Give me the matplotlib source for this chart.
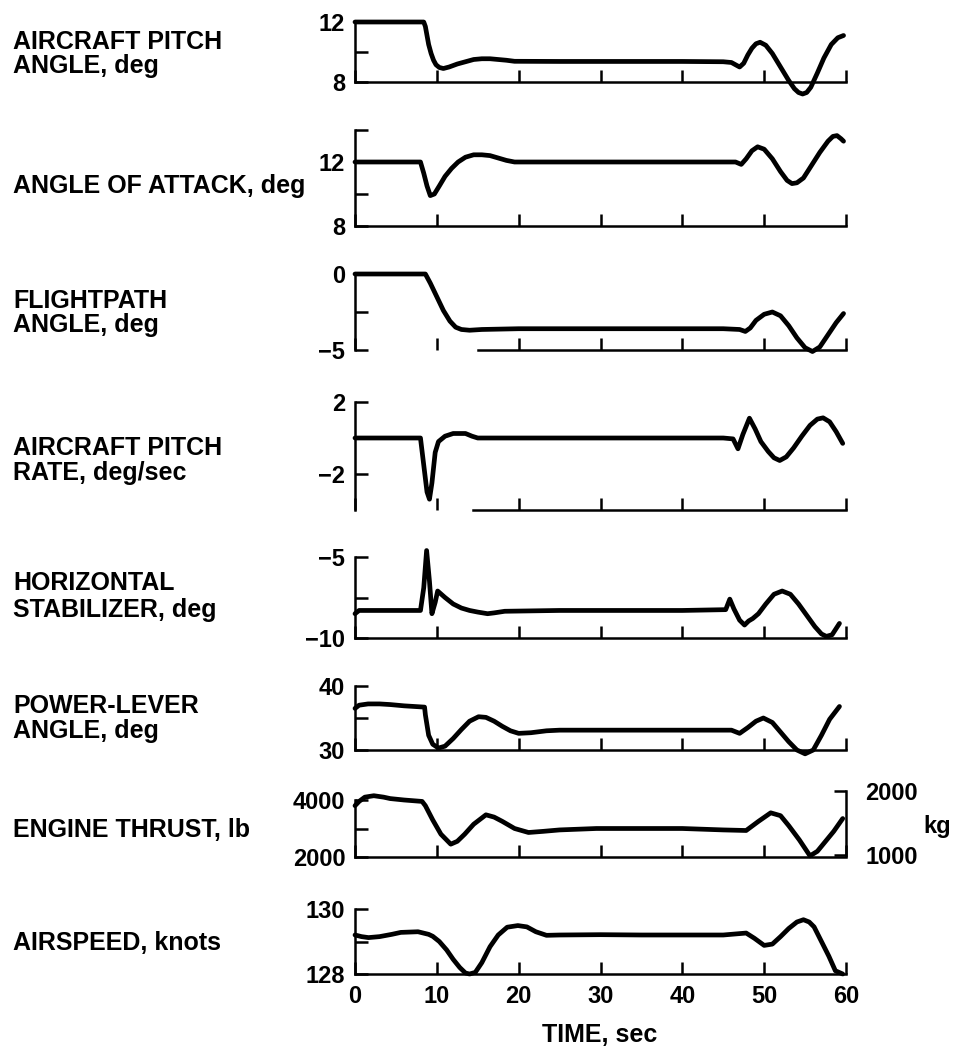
import matplotlib
matplotlib.use("Agg")
import matplotlib.pyplot as plt

plt.rcParams['font.family'] = ['Liberation Sans', 'DejaVu Sans']
plt.rcParams['font.weight'] = 'bold'

# ---------------- data ----------------
pitch_t = [0, 8.4, 8.6, 8.8, 9.0, 9.3, 9.6, 9.9, 10.3, 10.8, 11.5, 12.5, 13.5, 14.5, 15.5, 16.5, 17.5,
           18.5, 19.5, 25, 30, 35, 40, 45, 46, 46.5, 47, 47.5, 48, 48.5, 49.0, 49.5, 50.2, 51, 52, 53,
           53.7, 54.2, 54.7, 55.2, 55.7, 56.5, 57.3, 58.2, 59, 59.7]
pitch_v = [12.0, 12.0, 11.7, 11.1, 10.5, 9.9, 9.45, 9.15, 8.97, 8.9, 9.0, 9.2, 9.35, 9.5, 9.55, 9.55,
           9.5, 9.45, 9.38, 9.37, 9.37, 9.37, 9.37, 9.35, 9.3, 9.15, 9.0, 9.25, 9.8, 10.25, 10.55,
           10.65, 10.45, 9.9, 9.0, 8.1, 7.55, 7.3, 7.2, 7.3, 7.65, 8.6, 9.6, 10.5, 10.95, 11.1]

aoa_t = [0, 8.0, 8.4, 8.8, 9.2, 9.7, 10.3, 11, 11.8, 12.6, 13.5, 14.5, 15.5, 16.5, 17.5, 18.5, 19.5,
         25, 30, 35, 40, 45, 46.5, 47.2, 47.8, 48.5, 49.2, 50, 51, 52, 52.8, 53.4, 54.0, 54.8, 55.8,
         56.8, 57.8, 58.4, 58.9, 59.4, 59.7]
aoa_v = [12.0, 12.0, 11.3, 10.5, 9.9, 10.0, 10.5, 11.1, 11.6, 12.0, 12.3, 12.45, 12.45, 12.4, 12.25,
         12.1, 12.0, 12.0, 12.0, 12.0, 12.0, 12.0, 12.0, 11.85, 12.2, 12.7, 12.95, 12.8, 12.2, 11.4,
         10.85, 10.65, 10.7, 11.0, 11.8, 12.6, 13.3, 13.6, 13.65, 13.45, 13.3]

fpa_t = [0, 8.6, 9.2, 10.0, 10.8, 11.6, 12.3, 13.0, 14.0, 15.5, 20, 25, 30, 35, 40, 45, 47.0, 47.7,
         48.3, 49.0, 50.0, 51.0, 52.0, 53.0, 54.0, 55.0, 55.9, 56.8, 57.8, 58.8, 59.7]
fpa_v = [0, 0, -0.6, -1.5, -2.4, -3.1, -3.5, -3.65, -3.7, -3.65, -3.6, -3.6, -3.6, -3.6, -3.6, -3.6,
         -3.65, -3.78, -3.55, -3.05, -2.65, -2.5, -2.75, -3.4, -4.2, -4.85, -5.1, -4.8, -4.0, -3.2, -2.6]

rate_t = [0, 8.0, 8.4, 8.8, 9.1, 9.4, 9.8, 10.2, 11.0, 12.0, 13.5, 14.3, 15.0, 20, 25, 30, 35, 40, 45,
          46.2, 46.8, 47.4, 48.2, 48.9, 49.6, 50.5, 51.2, 51.9, 52.7, 53.6, 54.6, 55.6, 56.5, 57.2,
          58.0, 58.8, 59.6]
rate_v = [0, 0, -1.5, -3.0, -3.4, -2.5, -0.8, -0.2, 0.1, 0.25, 0.25, 0.1, 0.0, 0.0, 0.0, 0.0, 0.0,
          0.0, 0.0, -0.05, -0.6, 0.2, 1.1, 0.5, -0.2, -0.75, -1.1, -1.25, -1.05, -0.55, 0.1, 0.7,
          1.05, 1.12, 0.9, 0.35, -0.3]

stab_t = [0, 0.5, 1.0, 8.0, 8.4, 8.75, 9.1, 9.4, 9.8, 10.1, 11, 12, 13, 14, 15, 16.2, 17, 18.3, 25,
          30, 35, 40, 45.3, 45.8, 46.3, 47.0, 47.6, 48.1, 48.6, 49.3, 50.2, 51.2, 52.2, 53.2, 54.2,
          55.2, 56.2, 57.0, 57.6, 58.3, 59.2]
stab_v = [-8.5, -8.3, -8.3, -8.3, -6.9, -4.6, -6.5, -8.5, -7.8, -7.1, -7.5, -7.9, -8.15, -8.3, -8.4,
          -8.5, -8.45, -8.35, -8.3, -8.3, -8.3, -8.3, -8.25, -7.6, -8.2, -8.9, -9.2, -8.95, -8.8,
          -8.5, -7.9, -7.3, -7.1, -7.3, -7.9, -8.6, -9.3, -9.75, -9.9, -9.8, -9.1]

pla_t = [0, 0.5, 1.6, 3, 4.3, 6, 8.5, 8.6, 9.0, 9.5, 10.2, 11, 12, 13, 14, 15.1, 16, 17, 18, 19, 20,
         21.5, 23.4, 25, 30, 35, 40, 46, 47, 48, 49, 49.9, 51, 52, 53, 54, 55, 56, 57, 58, 59.2]
pla_v = [36.5, 37.0, 37.2, 37.2, 37.1, 36.9, 36.7, 35.5, 32.3, 30.9, 30.3, 30.6, 31.8, 33.2, 34.5,
         35.2, 35.1, 34.5, 33.7, 33.0, 32.6, 32.7, 33.0, 33.1, 33.1, 33.1, 33.1, 33.1, 32.6, 33.5,
         34.5, 35.0, 34.3, 32.8, 31.3, 30.0, 29.4, 30.0, 32.3, 34.8, 36.8]

thrust_t = [0, 0.5, 1.2, 2.3, 3.5, 4.3, 6, 8.2, 8.6, 9.5, 10.5, 11.7, 12.5, 13.4, 14.5, 16.0, 17, 18,
            19.5, 21.2, 23, 25, 29.5, 35, 40, 45, 47.8, 49.3, 50.8, 52, 53, 54.3, 55.6, 56.5, 57.5,
            58.5, 59.6]
thrust_v = [3800, 3950, 4100, 4150, 4100, 4050, 4000, 3950, 3800, 3300, 2800, 2450, 2550, 2800, 3150,
            3480, 3400, 3250, 3000, 2860, 2900, 2950, 3000, 3000, 3000, 2950, 2930, 3250, 3550, 3450,
            3100, 2600, 2040, 2200, 2550, 2900, 3350]

speed_t = [0, 0.8, 1.65, 3, 4.5, 5.6, 7.7, 9.0, 9.5, 10.3, 11.2, 12.0, 12.8, 13.5, 14.0, 14.7, 15.5,
           16.5, 17.5, 18.6, 19.9, 21, 22.1, 23.4, 25, 30, 35, 40, 45, 47.8, 48.8, 50.0, 51.0, 52.0,
           53.0, 54.0, 54.8, 55.5, 56.1, 57.0, 57.9, 58.7, 59.6]
speed_v = [129.2, 129.15, 129.12, 129.15, 129.22, 129.28, 129.3, 129.22, 129.16, 129.0, 128.74,
           128.45, 128.2, 128.03, 128.0, 128.05, 128.35, 128.84, 129.2, 129.44, 129.49, 129.45, 129.3,
           129.19, 129.2, 129.21, 129.2, 129.2, 129.2, 129.26, 129.1, 128.88, 128.92, 129.15, 129.4,
           129.6, 129.67, 129.6, 129.45, 129.0, 128.55, 128.1, 128.0]

labels = [["AIRCRAFT PITCH", "ANGLE, deg"],
          ["ANGLE OF ATTACK, deg"],
          ["FLIGHTPATH", "ANGLE, deg"],
          ["AIRCRAFT PITCH", "RATE, deg/sec"],
          ["HORIZONTAL", "STABILIZER, deg"],
          ["POWER-LEVER", "ANGLE, deg"],
          ["ENGINE THRUST, lb"],
          ["AIRSPEED, knots"]]

yticks = [[8, 10, 12], [8, 10, 12, 14], [-5, -2.5, 0], [-2, 0, 2], [-10, -7.5, -5],
          [30, 35, 40], [2000, 3000, 4000], [128, 129, 130]]
yticklabels = [["8", "", "12"], ["8", "", "12", ""], ["\u22125", "", "0"], ["\u22122", "", "2"],
               ["\u221210", "", "\u22125"], ["30", "", "40"], ["2000", "", "4000"],
               ["128", "", "130"]]
xticks = [0, 10, 20, 30, 40, 50, 60]
kg_ticks = [1000, 2000]

series = [(pitch_t, pitch_v), (aoa_t, aoa_v), (fpa_t, fpa_v), (rate_t, rate_v),
          (stab_t, stab_v), (pla_t, pla_v), (thrust_t, thrust_v), (speed_t, speed_v)]

# ---------------- layout ----------------
W, H = 960, 1049
fig = plt.figure(figsize=(W / 100, H / 100), dpi=100)
fig.patch.set_facecolor('white')

x0_px, x1_px = 355, 846
# (top pixel, bottom pixel, ylim)
panels = [(22, 82, (8, 12)),
          (130, 226, (8, 14)),
          (274, 350, (-5, 0)),
          (402, 510, (-4, 2)),
          (557, 638, (-10, -5)),
          (686, 750, (30, 40)),
          (800, 857, (2000, 4000)),
          (909, 974, (128, 130))]
label_rows = [[42, 66], [186], [301, 325], [448, 473], [583, 610], [706, 731], [830], [943]]
bottom_bounds = [None, None, (15, 60), (14.4, 60), None, None, None, None]

LW = 3.4
SPW = 1.8
TFS = 17
LFS = 18


def fx(px):
    return px / W


def fy(px):
    return 1 - px / H


for i, ((yt, yb, ylim), (tt, vv)) in enumerate(zip(panels, series)):
    ax = fig.add_axes([fx(x0_px), fy(yb), fx(x1_px) - fx(x0_px), (yb - yt) / H])
    ax.patch.set_visible(False)
    ax.set_xlim(0, 60)
    ax.set_ylim(*ylim)
    ax.plot(tt, vv, color='black', lw=LW, clip_on=False, solid_joinstyle='round',
            solid_capstyle='round')
    for s in ['top', 'right']:
        ax.spines[s].set_visible(False)
    for s in ['left', 'bottom']:
        ax.spines[s].set_linewidth(SPW)
    if bottom_bounds[i] is not None:
        ax.spines['bottom'].set_bounds(*bottom_bounds[i])
    ax.set_yticks(yticks[i])
    ax.set_yticklabels(yticklabels[i], fontsize=TFS, fontweight='bold')
    ax.set_xticks(xticks)
    if i == len(panels) - 1:
        ax.set_xticklabels([str(x) for x in xticks], fontsize=TFS, fontweight='bold')
    else:
        ax.set_xticklabels([''] * len(xticks))
    ax.tick_params(axis='both', direction='in', length=9, width=SPW, pad=7)
    ax.tick_params(axis='x', pad=8)
    for k, row in enumerate(label_rows[i]):
        fig.text(fx(13), fy(row), labels[i][k], fontsize=LFS, fontweight='bold',
                 ha='left', va='center')

    if i == 6:
        yt2, yb2 = 791, 855
        rax = fig.add_axes([fx(x0_px), fy(yb2), fx(x1_px) - fx(x0_px), (yb2 - yt2) / H])
        rax.patch.set_visible(False)
        rax.set_xlim(0, 60)
        rax.set_ylim(1000, 2000)
        for s in ['top', 'left', 'bottom']:
            rax.spines[s].set_visible(False)
        rax.spines['right'].set_linewidth(SPW)
        rax.set_xticks([])
        rax.yaxis.tick_right()
        rax.set_yticks(kg_ticks)
        rax.set_yticklabels([str(k) for k in kg_ticks], fontsize=TFS, fontweight='bold')
        rax.tick_params(axis='y', direction='in', length=9, width=SPW, pad=14)
        fig.text(fx(937), fy(826), "kg", fontsize=TFS, fontweight='bold', ha='center', va='center')

fig.text(fx(600), fy(1035), "TIME, sec", fontsize=LFS, fontweight='bold', ha='center', va='center')

fig.savefig("out.png", dpi=100, facecolor='white')
